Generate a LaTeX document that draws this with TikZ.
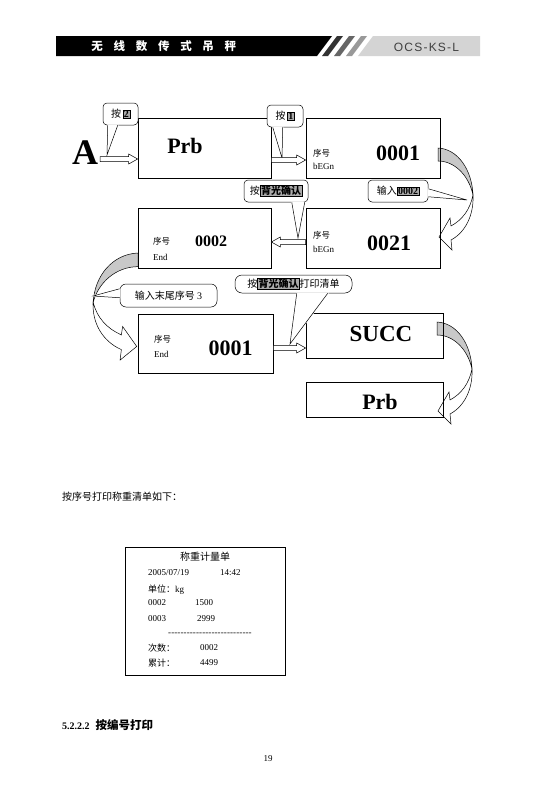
\documentclass[tikz,border=0pt]{standalone}
\usepackage{fontspec}
\usepackage{xcolor}
\usepackage{tikz}
\usetikzlibrary{calc}
\setmainfont{Liberation Serif}
\setsansfont{Liberation Sans}
\newfontfamily\cjk{Noto Sans CJK SC}
\definecolor{KGray}{RGB}{200,200,200}
\definecolor{KLight}{RGB}{212,212,212}
\definecolor{KDark}{RGB}{64,64,64}
\definecolor{KMark}{RGB}{170,170,170}

\newcommand{\keycap}[1]{{\setlength{\fboxsep}{0.7pt}\fcolorbox{black}{KMark}{\rmfamily\bfseries #1}}}
\newcommand{\hlkey}[1]{{\setlength{\fboxsep}{0.7pt}\fcolorbox{black}{KMark}{\cjk\bfseries #1}}}
\newcommand{\hyphenrow}{\foreach \k in {1,...,27}{-\kern0.1pt}}

\newcommand{\hollowarrow}[2]{%
  \draw[hollow] let \p1=(#1), \p2=(#2), \p3=($(\p2)!9pt!(\p1)$) in
    (\x1,\y1+2.5pt) -- (\x3,\y1+2.5pt) -- (\x3,\y1+5pt) -- (\x2,\y1)
    -- (\x3,\y1-5pt) -- (\x3,\y1-2.5pt) -- (\x1,\y1-2.5pt) -- cycle;}

\newcommand{\calltail}[3]{%
  \filldraw[white, line width=1.4pt] (#1) -- (#3) -- (#2) -- cycle;
  \draw[line width=0.5pt] (#1) -- (#3) -- (#2);}

\tikzset{
  screen/.style={draw, line width=0.7pt, inner sep=0pt},
  callout/.style={draw, line width=0.5pt, rounded corners=4pt, fill=white,
    inner sep=0pt, font=\cjk\fontsize{10}{10}\selectfont},
  hollow/.style={draw, line width=0.5pt, fill=white},
  bigtxt/.style={inner sep=0pt, font=\bfseries\fontsize{#1}{#1}\selectfont},
  tag/.style={inner sep=0pt, anchor=west, font=\fontsize{9}{9}\selectfont},
  cjktag/.style={inner sep=0pt, anchor=west, font=\cjk\fontsize{8.5}{8.5}\selectfont},
  slipline/.style={inner sep=0pt, anchor=west, font=\fontsize{9}{9}\selectfont},
  bendarrow/.pic={
    \filldraw[fill=KGray, line width=0.5pt] (0,0) .. controls (20,1) and (34,22) .. (35,47)
      .. controls (31,28) and (17,13) .. (0,13) -- cycle;
    \filldraw[fill=white, line width=0.5pt] (35,47) .. controls (36,66) and (28,84) .. (13,92)
      -- (14,102) -- (1,89) -- (12,70) -- (13,78) .. controls (24,72) and (32,62) .. (35,47) -- cycle;
  }
}

\begin{document}
\begin{tikzpicture}[x=1pt, y=-1pt]
  \fill[white] (0,0) rectangle (536,793);
  \useasboundingbox (0,0) rectangle (536,793);

  % header
  \fill[black] (56,36) -- (332,36) -- (317,56) -- (56,56) -- cycle;
  \foreach \i/\c in {0/black!80, 1/black!60, 2/black!40}
    \fill[\c] ({322+\i*12},56) -- ({337+\i*12},36) -- ({343+\i*12},36) -- ({328+\i*12},56) -- cycle;
  \fill[KLight] (358,56) -- (373,36) -- (480,36) -- (480,56) -- cycle;
  \foreach \c [count=\i] in {无,线,数,传,式,吊,秤}
    \node[white, inner sep=0pt, font=\cjk\bfseries\fontsize{11.5}{11.5}\selectfont] (h\i) at ({75+22.2*\i},46) {\c};
  \node[KDark, inner sep=0pt, font=\sffamily\fontsize{12}{12}\selectfont\addfontfeatures{LetterSpace=10}] (code) at (426.5,47) {OCS-KS-L};

  % bent arrows
  \pic (ba1) at (438,148) {bendarrow};
  \pic[xscale=-1.28, yscale=1.05] (ba2) at (138,253) {bendarrow};
  \pic (ba3) at (437,322) {bendarrow};

  % screens
  \node[screen, minimum width=133pt, minimum height=60pt] (prb) at (204.5,148) {};
  \node[screen, minimum width=134pt, minimum height=60pt] (b1) at (373,148) {};
  \node[screen, minimum width=133pt, minimum height=60pt] (b02) at (204.5,238) {};
  \node[screen, minimum width=134pt, minimum height=60pt] (b21) at (373,238) {};
  \node[screen, minimum width=135pt, minimum height=59pt] (b3) at (205.5,343.5) {};
  \node[screen, minimum width=137pt, minimum height=45pt] (succ) at (374.5,335.5) {};
  \node[screen, minimum width=137pt, minimum height=35pt] (prb2) at (374.5,399.5) {};

  % callouts
  \node[callout, minimum width=35pt, minimum height=22pt] (c2) at (120.5,114) {按\,\keycap{2}};
  \node[callout, minimum width=36pt, minimum height=22pt] (c1) at (285,116) {按\,\keycap{1}};
  \node[callout, minimum width=64pt, minimum height=22pt] (c3) at (276,191) {按\hlkey{背光确认}};
  \node[callout, minimum width=60pt, minimum height=22pt] (c4) at (398,191) {输入\keycap{0002}};
  \node[callout, minimum width=97pt, minimum height=23pt, rounded corners=6pt] (c5) at (168.5,295.5) {输入末尾序号 {\rmfamily 3}};
  \node[callout, minimum width=117pt, minimum height=18pt, rounded corners=7pt] (c6) at (293.5,284) {按\hlkey{背光确认}打印清单};

  \coordinate (t2) at (107,155);
  \coordinate (t1) at (282,158);
  \coordinate (t3) at (298,238);
  \coordinate (t4) at (467,200);
  \coordinate (t5) at (93,296);
  \coordinate (t6) at (290,344);
  \calltail{$(c2.south west)+(5,0)$}{$(c2.south west)+(15,0)$}{t2}
  \calltail{$(c1.south west)+(6,0)$}{$(c1.south west)+(16,0)$}{t1}
  \calltail{$(c3.south west)+(48,0)$}{$(c3.south west)+(61,0)$}{t3}
  \calltail{$(c4.north east)+(0,9)$}{$(c4.north east)+(0,17)$}{t4}
  \calltail{$(c5.north west)+(0,5)$}{$(c5.north west)+(0,14)$}{t5}
  \calltail{$(c6.south west)+(62,0)$}{$(c6.south west)+(93,0)$}{t6}

  % flow
  \node[bigtxt=36, inner sep=2pt] (A) at (85,153) {A};
  \hollowarrow{A.east |- 0,159}{prb.west |- 0,159}
  \hollowarrow{prb.east |- 0,160}{b1.west |- 0,160}
  \hollowarrow{b21.west |- 0,242}{b02.east |- 0,242}
  \hollowarrow{b3.east |- 0,348}{succ.west |- 0,348}

  % screen texts
  \node[bigtxt=22] (tprb) at (185,146) {Prb};
  \node[cjktag] (s1) at (313,153) {序号};
  \node[tag] (e1) at (313,166) {bEGn};
  \node[bigtxt=22] (t01) at (398,153) {0001};
  \node[cjktag] (s2) at (153,241) {序号};
  \node[tag] (e2) at (153,257) {End};
  \node[bigtxt=16] (t02) at (211,241) {0002};
  \node[cjktag] (s21) at (313,235) {序号};
  \node[tag] (e21) at (313,249) {bEGn};
  \node[bigtxt=22] (t21) at (389,243) {0021};
  \node[cjktag] (s3) at (154,339) {序号};
  \node[tag] (e3) at (154,354) {End};
  \node[bigtxt=22] (t03) at (230.5,348) {0001};
  \node[bigtxt=23] (tsucc) at (381,334) {SUCC};
  \node[bigtxt=22] (tprb2) at (380,402) {Prb};

  % print slip
  \node[inner sep=0pt, anchor=west, font=\cjk\fontsize{10}{10}\selectfont] (intro) at (62,497) {按序号打印称重清单如下：};
  \node[draw, line width=0.7pt, minimum width=160pt, minimum height=128pt, inner sep=0pt] (slip) at (205,611) {};
  \node[inner sep=0pt, font=\cjk\fontsize{10}{10}\selectfont] (sl0) at (205,557) {称重计量单};
  \node[slipline] (sl1) at (148,573) {2005/07/19};
  \node[slipline] (sl1b) at (220,573) {14:42};
  \node[slipline] (sl2) at (148,590) {{\cjk 单位：}kg};
  \node[slipline] (sl3) at (148,603) {0002};
  \node[slipline] (sl3b) at (195,603) {1500};
  \node[slipline] (sl4) at (148,619) {0003};
  \node[slipline] (sl4b) at (197,619) {2999};
  \node[inner sep=0pt, font=\fontsize{9}{9}\selectfont] (sl5) at (210,634) {\hyphenrow};
  \node[slipline] (sl6) at (148,648) {{\cjk 次数：}};
  \node[slipline] (sl6b) at (200,648) {0002};
  \node[slipline] (sl7) at (148,663) {{\cjk 累计：}};
  \node[slipline] (sl7b) at (200,663) {4499};

  \node[inner sep=0pt, anchor=west, font=\bfseries\fontsize{10}{10}\selectfont] (sec) at (62,725)
    {5.2.2.2\hspace{6pt}{\cjk\fontsize{11.5}{12}\selectfont 按编号打印}};
  \node[inner sep=0pt, font=\fontsize{9}{9}\selectfont] (pg) at (268,759) {19};
\end{tikzpicture}
\end{document}
